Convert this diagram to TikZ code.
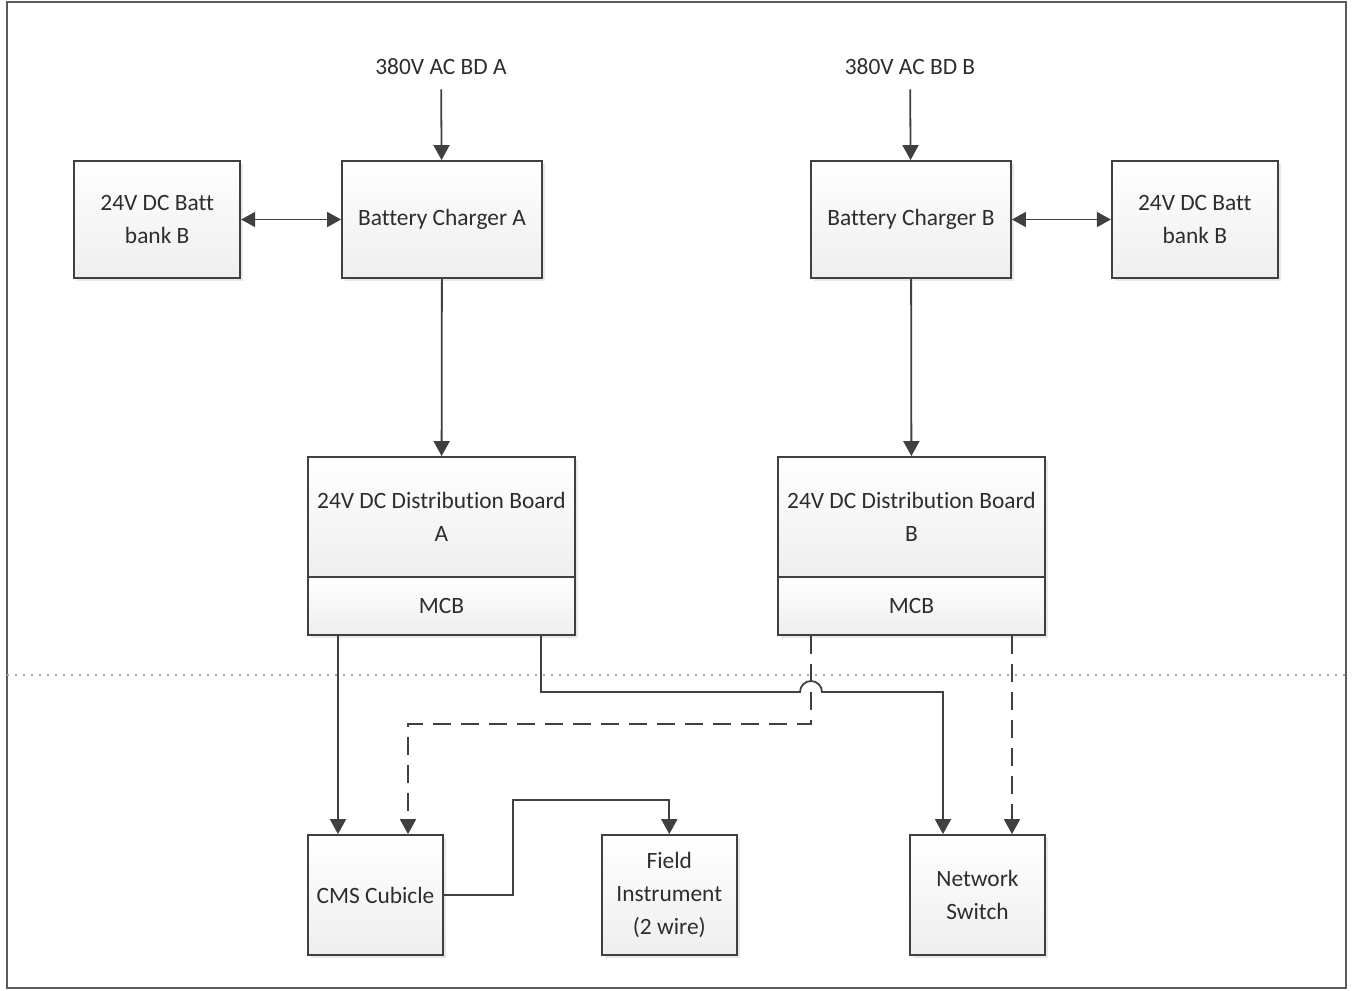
\documentclass[tikz,border=0pt]{standalone}
\usepackage{fontspec}
\setmainfont{Carlito}[Ligatures=NoCommon]
\usetikzlibrary{arrows.meta, positioning, shadows}
\definecolor{wirecol}{RGB}{64, 64, 64}
\definecolor{txtcol}{RGB}{45, 45, 45}
\definecolor{framecol}{RGB}{90, 90, 90}

\begin{document}
\begin{tikzpicture}[x=0.5pt, y=-0.5pt,
    font=\fontsize{11.7}{16.7}\selectfont, text=txtcol,
    box/.style={draw=wirecol, line width=0.9pt, top color=white, bottom color=gray!13,
      drop shadow={opacity=0.18, shadow xshift=1.5pt, shadow yshift=-1.5pt},
      align=center, inner sep=2pt},
    feed/.style={inner sep=7pt},
    wire/.style={draw=wirecol, line width=0.9pt},
    arr/.style={-{Triangle[length=7.5pt, width=8pt]}},
    arrboth/.style={{Triangle[length=7pt, width=7.5pt]}-{Triangle[length=7pt, width=7.5pt]}},
    dashwire/.style={wire, dash pattern=on 9pt off 5pt}]
  \useasboundingbox (0,0) rectangle (1356,991);
  % frame and divider
  \draw[framecol, line width=1pt] (7,2) rectangle (1346,988);
  \draw[gray!70, line width=0.6pt, dash pattern=on 1pt off 3pt] (7,675) -- (1346,675);

  % side A
  \node[box, minimum width=100pt, minimum height=58.5pt] (chgA) at (442,219.5) {Battery Charger A};
  \node[box, minimum width=83pt, minimum height=58.5pt, left=50pt of chgA] (bankA) {24V DC Batt\\bank B};
  \node[feed] (acA) at (441,67) {380V AC BD A};
  \node[box, minimum width=133.5pt, minimum height=60pt] (dbA) at (441.5,517) {24V DC Distribution Board\\A};
  \node[box, minimum width=133.5pt, minimum height=29pt, below=-0.9pt of dbA] (mcbA) {MCB};

  % side B
  \node[box, minimum width=100pt, minimum height=58.5pt] (chgB) at (911,219.5) {Battery Charger B};
  \node[box, minimum width=83pt, minimum height=58.5pt, right=49.5pt of chgB] (bankB) {24V DC Batt\\bank B};
  \node[feed] (acB) at (910,67) {380V AC BD B};
  \node[box, minimum width=133.5pt, minimum height=60pt] (dbB) at (911.5,517) {24V DC Distribution Board\\B};
  \node[box, minimum width=133.5pt, minimum height=29pt, below=-0.9pt of dbB] (mcbB) {MCB};

  % loads
  \node[box, minimum width=67.5pt, minimum height=60pt] (cms) at (375.5,895) {CMS Cubicle};
  \node[box, minimum width=67.5pt, minimum height=60pt, right=78.5pt of cms] (field) {Field\\Instrument\\(2 wire)};
  \node[box, minimum width=67.5pt, minimum height=60pt] (sw) at (977.5,895) {Network\\Switch};
  \coordinate (hop) at (811,692);

  % supply side
  \draw[wire, arr] (acA) -- (chgA);
  \draw[wire, arr] (acB) -- (chgB);
  \draw[wire, arrboth] (bankA) -- (chgA);
  \draw[wire, arrboth] (chgB) -- (bankB);
  \draw[wire, arr] (chgA) -- (dbA);
  \draw[wire, arr] (chgB) -- (dbB);

  % distribution
  \draw[wire, arr] ([xshift=-51.75pt]mcbA.south) -- ([xshift=-51.75pt]mcbA.south |- cms.north);
  \draw[dashwire, arr] ([xshift=-50.25pt]mcbB.south) -- ++(0,88) -| ([xshift=16.25pt]cms.north);
  \draw[wire, arr] ([xshift=49.75pt]mcbA.south) -- ([xshift=49.75pt]mcbA.south |- hop)
    -- ([xshift=-5.5pt]hop) arc[start angle=180, end angle=0, radius=5.5pt]
    -| ([xshift=-17.25pt]sw.north);
  \draw[dashwire, arr] ([xshift=50.25pt]mcbB.south) -- ([xshift=50.25pt]mcbB.south |- sw.north);
  \draw[wire, arr] (cms.east) -- ++(69,0) |- ([yshift=17pt]field.north) -- (field.north);
\end{tikzpicture}
\end{document}
